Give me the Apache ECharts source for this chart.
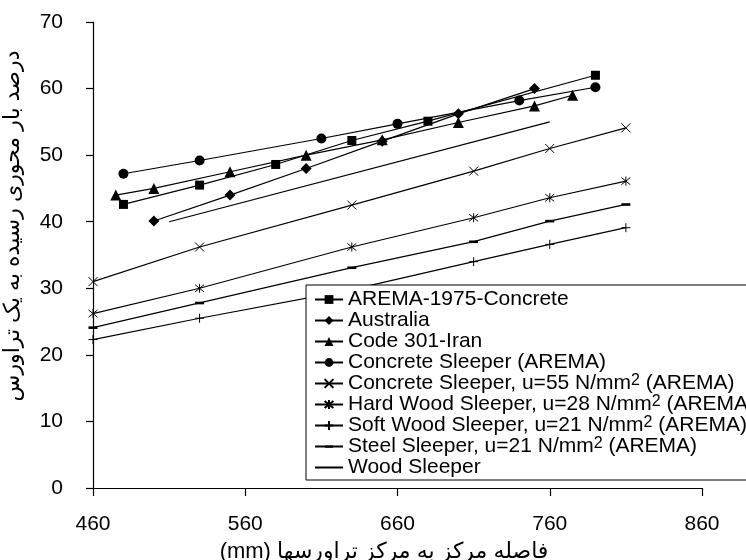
<!DOCTYPE html>
<html>
<head>
<meta charset="utf-8">
<script src="https://cdn.jsdelivr.net/npm/echarts@6/dist/echarts.min.js"></script>
</head>
<body style="margin: 0">
<div id="container" style="width: 746px; height: 560px;"></div>
<script>
// values
var aremaX = [480, 530, 580, 630, 680, 790];
var aremaY = [42.6, 45.5, 48.6, 52.2, 55.1, 62.0];

var australiaX = [500, 550, 600, 650, 700, 750];
var australiaY = [40.1, 44.0, 48.0, 52.1, 56.2, 60.0];

var iranX = [475, 500, 550, 600, 650, 700, 750, 775];
var iranY = [44.0, 45.0, 47.5, 50.0, 52.3, 54.9, 57.4, 59.0];

var concreteX = [480, 530, 610, 660, 740, 790];
var concreteY = [47.2, 49.2, 52.5, 54.7, 58.2, 60.2];

var spacingX = [460, 530, 630, 710, 760, 810];
var concrete55Y = [31.0, 36.2, 42.5, 47.6, 51.0, 54.1];
var hardWoodY = [26.2, 30.0, 36.2, 40.6, 43.6, 46.1];
var softWoodY = [22.3, 25.5, 29.8, 34.0, 36.6, 39.1];
var steelY = [24.1, 27.8, 33.1, 37.0, 40.1, 42.6];

var woodX = [510, 760];
var woodY = [40, 55];

var names = [
    'AREMA-1975-Concrete',
    'Australia',
    'Code 301-Iran',
    'Concrete Sleeper (AREMA)',
    'Concrete Sleeper, u=55 N/mm2 (AREMA)',
    'Hard Wood Sleeper, u=28 N/mm2 (AREMA)',
    'Soft Wood Sleeper, u=21 N/mm2 (AREMA)',
    'Steel Sleeper, u=21 N/mm2 (AREMA)',
    'Wood Sleeper'
];

var yAxisName = 'درصد بار محوری رسیده به یک تراورس';
var xAxisName = '\u202Bفاصله مرکز به مرکز تراورسها (mm)\u202C';

var FONT = 'Liberation Sans, Arial, DejaVu Sans, sans-serif';

function zip(xs, ys) {
    var res = [];
    for (var i = 0; i < xs.length; i++) res.push([xs[i], ys[i]]);
    return res;
}

// marker shapes
var crossPath = 'path://M0,0L10,10M10,0L0,10';
var starPath = 'path://M1,1L9,9M9,1L1,9M5,0L5,10';
var plusPath = 'path://M5,0L5,10M0,5L10,5';
var dashPath = 'path://M0,0M10,10M0.5,3.8L9.5,3.8L9.5,6.4L0.5,6.4Z';
var blankPath = 'path://M0,0M10,10';   // nothing drawn, keeps legend icon a plain line

function makeSeries(name, xs, ys, symbol, size, stroked) {
    return {
        name: name,
        type: 'line',
        data: zip(xs, ys),
        symbol: symbol,
        symbolSize: size,
        showSymbol: symbol !== blankPath,
        lineStyle: { color: '#000', width: 1.2 },
        itemStyle: stroked
            ? { color: '#000', borderColor: '#000', borderWidth: 1 }
            : { color: '#000', borderWidth: 0 },
        emphasis: { disabled: true },
        z: 2
    };
}

var series = [
    makeSeries(names[0], aremaX, aremaY, 'rect', 9, false),
    makeSeries(names[1], australiaX, australiaY, 'diamond', 11, false),
    makeSeries(names[2], iranX, iranY, 'triangle', 11, false),
    makeSeries(names[3], concreteX, concreteY, 'circle', 10, false),
    makeSeries(names[4], spacingX, concrete55Y, crossPath, 9, true),
    makeSeries(names[5], spacingX, hardWoodY, starPath, 9, true),
    makeSeries(names[6], spacingX, softWoodY, plusPath, 9, true),
    makeSeries(names[7], spacingX, steelY, dashPath, 10, false),
    makeSeries(names[8], woodX, woodY, blankPath, 1, false)
];

var myChart = echarts.init(document.getElementById('container'));

var axisText = { color: '#000', fontSize: 21, fontFamily: FONT };

var option = {
    animation: false,
    backgroundColor: '#fff',
    grid: { left: 93, right: 44, top: 22, bottom: 72 },
    xAxis: {
        type: 'value',
        min: 460,
        max: 860,
        interval: 100,
        splitLine: { show: false },
        axisLine: { lineStyle: { color: '#000', width: 1.2 } },
        axisTick: { inside: false, length: 8, lineStyle: { color: '#000', width: 1.2 } },
        axisLabel: Object.assign({ margin: 26 }, axisText)
    },
    yAxis: {
        type: 'value',
        min: 0,
        max: 70,
        interval: 10,
        splitLine: { show: false },
        axisLine: { show: true, onZero: false, lineStyle: { color: '#000', width: 1.2 } },
        axisTick: { show: true, inside: false, length: 7, lineStyle: { color: '#000', width: 1.2 } },
        axisLabel: Object.assign({ margin: 30 }, axisText)
    },
    legend: {
        orient: 'vertical',
        left: 306,
        top: 285,
        padding: [4, 60, 2, 8],
        itemGap: 0,
        itemWidth: 28,
        itemHeight: 11,
        itemTextGap: 5,
        backgroundColor: '#fff',
        borderColor: '#000',
        borderWidth: 1,
        selectedMode: false,
        data: names,
        formatter: function (name) {
            return name.replace('N/mm2', 'N/mm{sup|2}');
        },
        textStyle: {
            color: '#000',
            fontSize: 21,
            lineHeight: 21,
            fontFamily: FONT,
            rich: {
                sup: { fontSize: 16, lineHeight: 8, verticalAlign: 'top', color: '#000', fontFamily: FONT }
            }
        }
    },
    graphic: [
        {
            type: 'text',
            x: 13,
            y: 226,
            rotation: Math.PI / 2,
            style: {
                text: yAxisName,
                fill: '#000',
                font: '22px ' + FONT,
                textAlign: 'center',
                textVerticalAlign: 'middle'
            }
        },
        {
            type: 'text',
            x: 384,
            y: 552,
            style: {
                text: xAxisName,
                fill: '#000',
                font: '22px ' + FONT,
                textAlign: 'center',
                textVerticalAlign: 'middle'
            }
        }
    ],
    series: series
};

myChart.setOption(option);
</script>
</body>
</html>
